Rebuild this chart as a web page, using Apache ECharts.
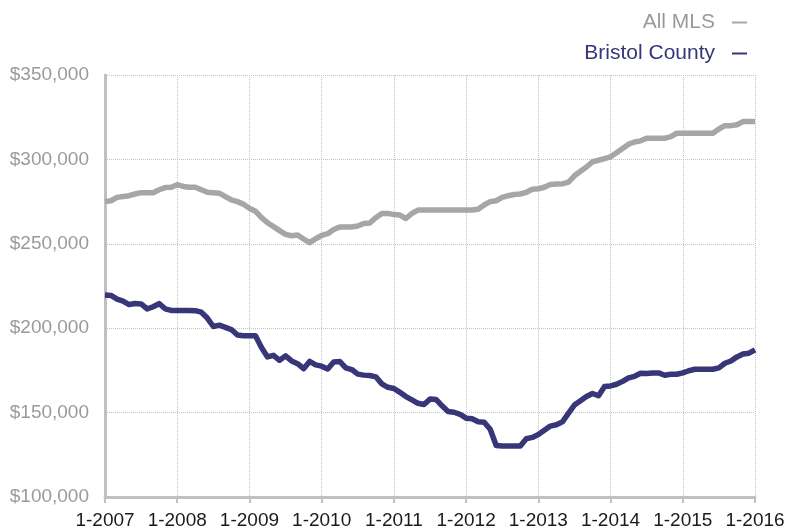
<!DOCTYPE html>
<html>
<head>
<meta charset="utf-8">
<script src="https://cdn.jsdelivr.net/npm/echarts@6/dist/echarts.min.js"></script>
<style>
  html, body { margin: 0; padding: 0; background: #fff; }
  #chart { width: 802px; height: 531px; }
</style>
</head>
<body>
<div id="chart"></div>
<script>
// monthly labels 1-2007 .. 1-2016
const months = [];
for (let y = 2007; y <= 2016; y++) {
  for (let m = 1; m <= 12; m++) {
    if (y === 2016 && m > 1) break;
    months.push(m + '-' + y);
  }
}

// median price, thousands of dollars
const allMls = [
  275, 275.5, 277.5, 278, 278.5, 279.5, 280.3, 280.3, 280.3, 282, 283.3, 283.5,
  285, 284, 283.5, 283.5, 282, 280.5, 280.3, 280, 278, 276, 275, 273.5,
  271, 269.3, 265.5, 262.5, 260.2, 257.8, 255.6, 254.8, 255.2, 252.8, 250.7, 253,
  255, 256, 258.5, 260, 260, 260, 260.5, 262, 262.3, 265.5, 268, 268,
  267.3, 267, 265, 268, 270, 270, 270, 270, 270, 270, 270, 270,
  270, 270, 270.5, 273, 275, 275.5, 277.5, 278.5, 279.2, 279.5, 280.5, 282.3,
  282.6, 283.5, 285.2, 285.4, 285.5, 286.5, 290.3, 293, 295.5, 298.6, 299.5, 300.5,
  301.5, 304, 306.5, 309, 310.3, 311, 312.5, 312.5, 312.5, 312.5, 313.5, 315.5,
  315.5, 315.5, 315.5, 315.5, 315.5, 315.5, 318, 320, 320, 320.5, 322.4, 322.4,
  322.4
];

const bristol = [
  219.6, 219.4, 217.2, 216, 214, 214.6, 214.4, 211.4, 212.7, 214.6, 211.5, 210.5,
  210.5, 210.5, 210.5, 210.4, 209.5, 206, 201, 201.8, 200.5, 199.2, 196, 195.5,
  195.5, 195.5, 188.5, 183, 183.9, 181, 183.6, 180.6, 179, 176, 180.3, 178.3,
  177.5, 175.8, 180, 180.3, 176.5, 175.5, 172.8, 172.2, 172, 171.2, 167, 165,
  164.3, 162, 159.5, 157.5, 155.5, 154.8, 158, 157.8, 154, 150.6, 150.2, 149,
  146.7, 146.3, 144.6, 144.3, 140.1, 130.5, 130.2, 130.2, 130.2, 130.2, 134.5, 135.3,
  137, 139.5, 142, 142.8, 144.5, 149.5, 154.5, 157, 159.5, 161.3, 160, 165.4,
  165.8, 166.8, 168.5, 170.6, 171.5, 173.3, 173.1, 173.5, 173.5, 172.1, 172.7, 172.7,
  173.5, 174.8, 175.7, 175.7, 175.7, 175.7, 176.5, 179.2, 180.6, 183, 184.7, 185.2,
  187.2
];

const yTicks = [100000, 350000, 50000]; // min, max, step

const GRAY = '#a6a6a6';
const NAVY = '#363678';
const font = '"Liberation Sans", Arial, sans-serif';

var chart = echarts.init(document.getElementById('chart'));

function money(v) {
  return '$' + String(v).replace(/\B(?=(\d{3})+(?!\d))/g, ',');
}

var option = {
  animation: false,
  textStyle: { fontFamily: font },
  legend: {
    orient: 'vertical',
    right: 50,
    top: 7,
    align: 'right',
    itemGap: 10,
    itemWidth: 15,
    itemHeight: 2,
    icon: 'rect',
    textStyle: { fontSize: 21, lineHeight: 21, fontFamily: font, padding: [0, 12, 0, 0] },
    data: [
      { name: 'All MLS', textStyle: { color: '#9a9a9a' } },
      { name: 'Bristol County', textStyle: { color: NAVY } }
    ]
  },
  grid: {
    left: 105,
    right: 47,
    top: 75,
    bottom: 34
  },
  xAxis: {
    type: 'category',
    data: months,
    boundaryGap: false,
    axisLine: { lineStyle: { color: '#c0c0c0', width: 3 } },
    axisTick: { show: true, interval: 11, length: 6, lineStyle: { color: '#c0c0c0', width: 2 } },
    axisLabel: { interval: 11, color: '#1a1a1a', fontSize: 19, margin: 14 },
    splitLine: { show: true, interval: 11, lineStyle: { color: '#c4c4c4', type: 'dotted', width: 1 } }
  },
  yAxis: {
    type: 'value',
    min: yTicks[0],
    max: yTicks[1],
    interval: yTicks[2],
    axisLine: { show: true, lineStyle: { color: '#c0c0c0', width: 3 } },
    axisTick: { show: false },
    axisLabel: { color: '#9a9a9a', fontSize: 19, margin: 16, formatter: money },
    splitLine: { lineStyle: { color: '#c4c4c4', type: 'dotted', width: 1 } }
  },
  series: [
    {
      name: 'All MLS',
      type: 'line',
      data: allMls.map(v => v * 1000),
      showSymbol: false,
      color: GRAY,
      lineStyle: { color: GRAY, width: 5.5, join: 'round' }
    },
    {
      name: 'Bristol County',
      type: 'line',
      data: bristol.map(v => v * 1000),
      showSymbol: false,
      color: NAVY,
      lineStyle: { color: NAVY, width: 5.5, join: 'round' }
    }
  ]
};

chart.setOption(option);
</script>
</body>
</html>
